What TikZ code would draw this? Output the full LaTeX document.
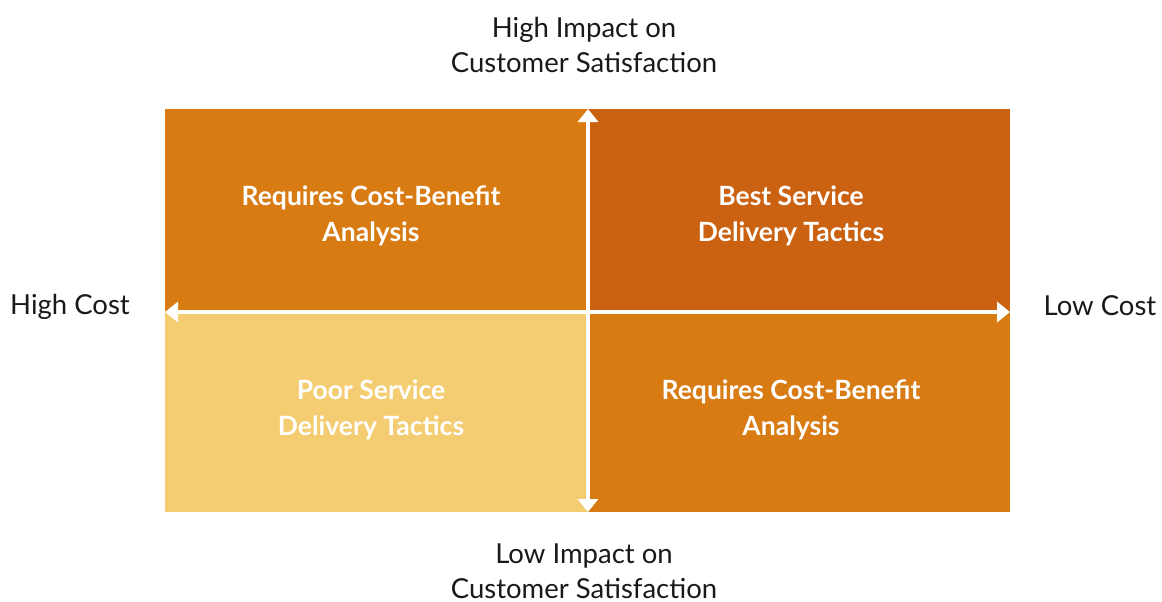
\documentclass[tikz,border=0pt]{standalone}
\usepackage{fontspec}
\setmainfont{Lato}
\usetikzlibrary{arrows.meta}
\definecolor{quadA}{HTML}{D87B12}
\definecolor{quadB}{HTML}{CB6212}
\definecolor{quadC}{HTML}{F4CD72}
\tikzset{
  quadtext/.style={text=white, font=\fontsize{26.5}{35.5}\selectfont\bfseries, align=center},
  axislabel/.style={text=black!90, font=\fontsize{27.5}{35}\selectfont, align=center},
  axisarrow/.style={white, line width=3.5pt, {Triangle[width=20pt,length=13pt]}-{Triangle[width=20pt,length=13pt]}}
}
\begin{document}
\begin{tikzpicture}[x=1pt,y=-1pt]
  \useasboundingbox (0,0) rectangle (1162,602);
  % quadrants
  \fill[quadA] (165,109) rectangle (588,311);
  \fill[quadB] (588,109) rectangle (1010,311);
  \fill[quadC] (165,311) rectangle (588,512);
  \fill[quadA] (588,311) rectangle (1010,512);
  % axes
  \coordinate (top) at (588,109);
  \coordinate (bottom) at (588,512);
  \coordinate (left) at (165,312);
  \coordinate (right) at (1010,312);
  \draw[axisarrow] (bottom) -- (top);
  \draw[axisarrow] (left) -- (right);
  % quadrant texts
  \node[quadtext] (tl) at (371,216) {Requires Cost-Benefit\\Analysis};
  \node[quadtext] (tr) at (791,216) {Best Service\\Delivery Tactics};
  \node[quadtext] (bl) at (371,410) {Poor Service\\Delivery Tactics};
  \node[quadtext] (br) at (791,410) {Requires Cost-Benefit\\Analysis};
  % axis labels
  \node[axislabel] (hi) at (584,45) {High Impact on\\Customer Satisfaction};
  \node[axislabel] (lo) at (584,571) {Low Impact on\\Customer Satisfaction};
  \node[axislabel] (hc) at (70,307) {High Cost};
  \node[axislabel] (lc) at (1100,306) {Low Cost};
\end{tikzpicture}
\end{document}
